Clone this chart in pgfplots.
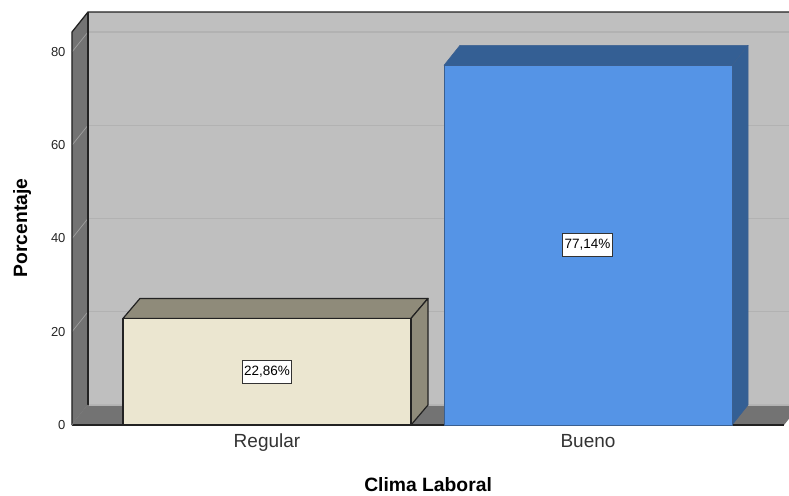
\documentclass[border=0pt]{standalone}
\usepackage{fontspec}
\setmainfont{Liberation Sans}
\usepackage{pgfplots}
\pgfplotsset{compat=1.18}
\definecolor{wallback}{HTML}{BFBFBF}
\definecolor{wallside}{HTML}{737373}
\definecolor{gridc}{HTML}{B2B2B2}
\definecolor{gridside}{HTML}{A0A0A0}
\definecolor{edge}{HTML}{222222}
\definecolor{beige}{HTML}{EBE6D0}
\definecolor{beiged}{HTML}{8F8B7A}
\definecolor{blue1}{HTML}{5594E6}
\definecolor{blue2}{HTML}{345F94}
\definecolor{blueedge}{HTML}{3A5F90}
\begin{document}
\begin{tikzpicture}
\useasboundingbox (-70pt,-67.67pt) rectangle (719pt,427.33pt);
\begin{axis}[
  x=1pt, y=4.6625pt,
  xmin=70, xmax=789, ymin=-0.5, ymax=90,
  axis line style={draw=none},
  major tick length=0pt,
  tick style={draw=none},
  xtick={267,588},
  xticklabels={Regular,Bueno},
  ytick={0,20,40,60,80},
  /pgf/number format/assume math mode=true,
  yticklabel style={font=\fontsize{13}{15}\selectfont, text=black!85},
  xticklabel style={font=\fontsize{19}{21}\selectfont, text=black!80, text height=13pt, text depth=4pt},
  y tick label style={xshift=-1pt},
  x tick label style={yshift=-4pt},
  xlabel={Clima Laboral},
  ylabel={Porcentaje},
  xlabel style={at={(axis description cs:0.498,-0.1367)},anchor=center,font=\fontsize{19.3}{21}\selectfont\bfseries},
  ylabel style={at={(axis description cs:-0.0667,0.4724)},anchor=center,font=\fontsize{19.3}{21}\selectfont\bfseries},
]
% back wall
\addplot[fill=wallback,draw=none] coordinates {(88,4.29)(800,4.29)(800,88.58)(88,88.58)} --cycle;
% back wall grid
\addplot[gridc,line width=1.2pt] coordinates {(88,24.29)(800,24.29)};
\addplot[gridc,line width=1.2pt] coordinates {(88,44.29)(800,44.29)};
\addplot[gridc,line width=1.2pt] coordinates {(88,64.29)(800,64.29)};
\addplot[gridc,line width=1.2pt] coordinates {(88,84.29)(800,84.29)};
% side wall
\addplot[fill=wallside,draw=none] coordinates {(72,0)(88,4.29)(88,88.58)(72,84.29)} --cycle;
\addplot[gridside,line width=0.7pt] coordinates {(72,0)(88,4.29)};
\addplot[gridside,line width=0.7pt] coordinates {(72,20)(88,24.29)};
\addplot[gridside,line width=0.7pt] coordinates {(72,40)(88,44.29)};
\addplot[gridside,line width=0.7pt] coordinates {(72,60)(88,64.29)};
\addplot[gridside,line width=0.7pt] coordinates {(72,80)(88,84.29)};
% floor
\addplot[fill=wallside,draw=none] coordinates {(72,0)(784,0)(800,4.29)(88,4.29)} --cycle;
% frame lines
\addplot[edge,line width=1.3pt] coordinates {(72,0)(72,84.29)(88,88.58)(800,88.58)};
\addplot[edge,line width=1.3pt] coordinates {(88,4.29)(88,88.58)};
\addplot[edge,line width=1.3pt] coordinates {(72,0)(784,0)};
\addplot[wallside,line width=0.8pt] coordinates {(72,0)(88,4.29)};
\addplot[gridc,line width=0.8pt] coordinates {(89,4.29)(800,4.29)};
% Regular bar
\addplot[fill=beiged,draw=edge,line width=1.2pt,line join=round] coordinates {(123,22.86)(411,22.86)(428,27.15)(140,27.15)} --cycle;
\addplot[fill=beiged,draw=edge,line width=1.2pt,line join=round] coordinates {(411,0)(428,4.29)(428,27.15)(411,22.86)} --cycle;
\addplot[fill=beige,draw=edge,line width=1.2pt,line join=round] coordinates {(123,0)(411,0)(411,22.86)(123,22.86)} --cycle;
% Bueno bar
\addplot[fill=blue2,draw=blueedge,line width=0.6pt,line join=round] coordinates {(444,77.14)(732,77.14)(748,81.43)(460,81.43)} --cycle;
\addplot[fill=blue2,draw=blueedge,line width=0.6pt,line join=round] coordinates {(732,0)(748,4.29)(748,81.43)(732,77.14)} --cycle;
\addplot[fill=blue1,draw=blueedge,line width=0.6pt,line join=round] coordinates {(444,0)(732,0)(732,77.14)(444,77.14)} --cycle;
% value labels
\node[fill=white,draw=black!80,line width=1.1pt,inner xsep=2pt,inner ysep=0pt,minimum height=23pt,font=\fontsize{13.5}{15}\selectfont,text=black] at (axis cs:267,11.43) {22,86\%};
\node[fill=white,draw=black!80,line width=1.1pt,inner xsep=2pt,inner ysep=0pt,minimum height=23pt,font=\fontsize{13.5}{15}\selectfont,text=black] at (axis cs:587.5,38.57) {77,14\%};
\end{axis}
\end{tikzpicture}
\end{document}
